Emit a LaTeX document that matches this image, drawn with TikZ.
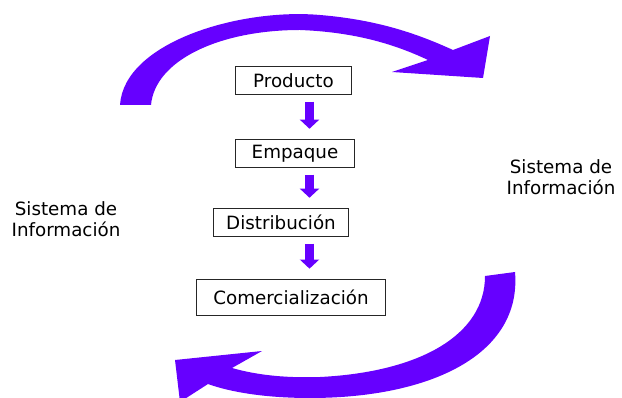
\documentclass[tikz,border=0pt]{standalone}
\usepackage{fontspec}
\setmainfont{DejaVu Sans}
\usetikzlibrary{calc, arrows.meta, positioning}
\definecolor{violeta}{RGB}{102,0,255}
\tikzset{
  etapa/.style={draw=black!85, line width=0.7pt, minimum height=0.72cm, inner sep=0pt, font=\fontsize{13}{15}\selectfont},
  flecha/.style={-{Triangle[width=13.5pt,length=6.5pt]}, line width=7pt, draw=violeta, shorten <=4.5pt, shorten >=7pt},
  sistema/.style={align=center, font=\fontsize{13}{15}\selectfont}
}

\begin{document}
\begin{tikzpicture}[x=0.025cm, y=-0.025cm]
  \useasboundingbox (0,0) rectangle (622,398);
  % ciclo superior
  \fill[violeta] (120,105) .. controls (124,42) and (240,8) .. (320,15)
    .. controls (380,20) and (420,35) .. (453,50) -- (490,36) -- (483,78) -- (392,72) -- (428,60)
    .. controls (390,42) and (350,32) .. (300,30)
    .. controls (220,30) and (155,60) .. (151,105) -- cycle;
  % ciclo inferior
  \fill[violeta] (515,272) .. controls (522,355) and (430,398) .. (310,398)
    .. controls (265,398) and (230,392) .. (208,384) -- (180,402) -- (175,360) -- (262,351) -- (232,368)
    .. controls (260,376) and (290,378) .. (320,377)
    .. controls (420,372) and (485,335) .. (485,276) -- cycle;
  % etapas
  \node[etapa, minimum width=2.875cm] (prod) at (293.5,80.5) {Producto};
  \node[etapa, minimum width=2.95cm] (emp) at (295,153.5) {Empaque};
  \node[etapa, minimum width=3.35cm] (dist) at (281,222.5) {Distribución};
  \node[etapa, minimum width=4.7cm, minimum height=0.9cm] (com) at (291,297) {Comercialización};
  \coordinate (eje) at (309.5,0);
  \draw[flecha] (prod.south -| eje) -- (emp.north -| eje);
  \draw[flecha] (emp.south -| eje) -- (dist.north -| eje);
  \draw[flecha] (dist.south -| eje) -- (com.north -| eje);
  % sistemas de informacion
  \node[sistema] (si1) at (66,219) {Sistema de\\Información};
  \node[sistema] (si2) at (561,177) {Sistema de\\Información};
\end{tikzpicture}
\end{document}
